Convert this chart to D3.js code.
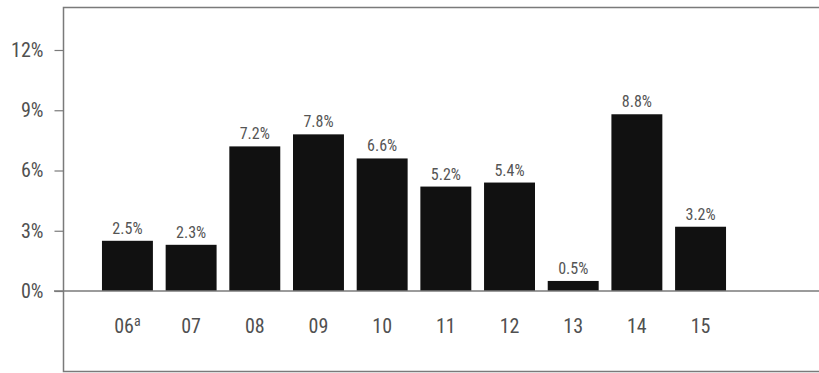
<!DOCTYPE html>
<html>
    <head>
        <meta charset='utf-8'>
        <title>Growth by year</title>
        <script src='https://cdn.jsdelivr.net/npm/d3@7/dist/d3.min.js'></script>
        <style>
            body { margin:0; background:#fff; }
            svg { display:block; }
            text { font-family:"Liberation Sans Narrow", "Roboto Condensed", "Arial Narrow", sans-serif; }
        </style>
    </head>
    <body>
        <div id='chart'></div>
        <script>
            var years  = ['06', '07', '08', '09', '10', '11', '12', '13', '14', '15'];
            var values = [2.5, 2.3, 7.2, 7.8, 6.6, 5.2, 5.4, 0.5, 8.8, 3.2];
            var yTicks = [0, 3, 6, 9, 12];

            var w = 819;
            var h = 373;

            var svg = d3.select('#chart')
                        .append('svg')
                        .attr('width', w)
                        .attr('height', h);

            var x = d3.scaleBand()
                        .domain(years)
                        .range([95.6, 732.4])
                        .paddingInner(0.2)
                        .paddingOuter(0.1);

            var y = d3.scaleLinear()
                        .domain([0, 12])
                        .range([291, 50]);

            // frame (left, top, bottom; open on the right)
            svg.append('path')
                .attr('d', 'M819,7.5 H63.5 V371.5 H819')
                .attr('fill', 'none')
                .attr('stroke', '#7a7a7a')
                .attr('stroke-width', 1.5);

            // bars
            svg.selectAll('rect.bar')
                .data(values)
                .enter()
                .append('rect')
                .attr('class', 'bar')
                .attr('x', function(d, i) { return x(years[i]); })
                .attr('y', function(d) { return y(d); })
                .attr('width', x.bandwidth())
                .attr('height', function(d) { return y(0) - y(d); })
                .attr('fill', '#111');

            // baseline
            svg.append('line')
                .attr('x1', 54).attr('x2', w)
                .attr('y1', y(0)).attr('y2', y(0))
                .attr('stroke', '#7a7a7a')
                .attr('stroke-width', 1.5);

            // y axis
            var yAxis = d3.axisLeft(y)
                        .tickValues(yTicks)
                        .tickSize(9)
                        .tickPadding(11)
                        .tickFormat(function(d) { return d + '%'; });

            var gy = svg.append('g')
                        .attr('transform', 'translate(63.5,0)')
                        .call(yAxis);
            gy.select('.domain').remove();
            gy.selectAll('.tick line').attr('stroke', '#7a7a7a').attr('stroke-width', 1.2);
            gy.selectAll('.tick text')
                .attr('fill', '#505050')
                .attr('font-size', '20px')
                .style('font-family', '"Liberation Sans Narrow", "Roboto Condensed", sans-serif');

            // value labels
            svg.selectAll('text.val')
                .data(values)
                .enter()
                .append('text')
                .attr('class', 'val')
                .text(function(d) { return d.toFixed(1) + '%'; })
                .attr('x', function(d, i) { return x(years[i]) + x.bandwidth() / 2; })
                .attr('y', function(d) { return y(d) - 7; })
                .attr('text-anchor', 'middle')
                .attr('font-size', '16px')
                .attr('fill', '#555');

            // category labels
            var cat = svg.selectAll('text.cat')
                .data(years)
                .enter()
                .append('text')
                .attr('class', 'cat')
                .attr('x', function(d) { return x(d) + x.bandwidth() / 2; })
                .attr('y', 333)
                .attr('text-anchor', 'middle')
                .attr('font-size', '20px')
                .attr('fill', '#505050');

            cat.append('tspan').text(function(d) { return d; });
            cat.filter(function(d, i) { return i === 0; })
                .append('tspan')
                .attr('dy', -7)
                .attr('font-size', '14px')
                .text('a');
        </script>
    </body>
</html>
